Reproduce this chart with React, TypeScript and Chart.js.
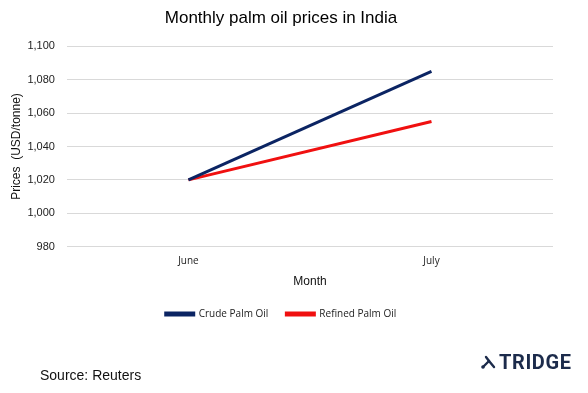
import React, { useEffect, useRef } from "react";
import { Chart, registerables } from "chart.js";

Chart.register(...registerables);

const categories = ["June", "July"];
const crudePalmOil = [1020, 1085];
const refinedPalmOil = [1020, 1055];
const yMin = 980;
const yMax = 1100;
const yStep = 20;

export default function App() {
  const ref = useRef<HTMLCanvasElement | null>(null);

  useEffect(() => {
    if (!ref.current) return;
    const chart = new Chart(ref.current, {
      type: "line",
      data: {
        labels: categories,
        datasets: [
          {
            label: "Crude Palm Oil",
            data: crudePalmOil,
            borderColor: "#0b2463",
            backgroundColor: "#0b2463",
            borderWidth: 3,
            pointRadius: 0,
            tension: 0,
          },
          {
            label: "Refined Palm Oil",
            data: refinedPalmOil,
            borderColor: "#f01010",
            backgroundColor: "#f01010",
            borderWidth: 3,
            pointRadius: 0,
            tension: 0,
          },
        ],
      },
      options: {
        animation: false,
        responsive: false,
        maintainAspectRatio: false,
        layout: { padding: { left: 9, right: 35, top: 0, bottom: 64 } },
        plugins: {
          title: {
            display: true,
            text: "Monthly palm oil prices in India",
            color: "#000",
            font: { family: "Liberation Sans, Arial", size: 17, weight: "normal" },
            padding: { top: 8, bottom: 18 },
          },
          legend: {
            position: "bottom",
            labels: {
              boxWidth: 28,
              boxHeight: 2,
              color: "#222",
              font: { family: "Open Sans, Lato, sans-serif", size: 10 },
              padding: 18,
            },
          },
          tooltip: { enabled: false },
        },
        scales: {
          x: {
            offset: true,
            grid: { display: false, drawTicks: false },
            border: { display: false },
            ticks: {
              color: "#222",
              font: { family: "Open Sans, Lato, sans-serif", size: 10 },
              padding: 9,
            },
            title: {
              display: true,
              text: "Month",
              color: "#111",
              font: { family: "Liberation Sans, Arial", size: 12 },
              padding: { top: -2, bottom: 2 },
            },
          },
          y: {
            min: yMin,
            max: yMax,
            grid: { color: "#d9d9d9", drawTicks: false, lineWidth: 1 },
            border: { display: false },
            ticks: {
              stepSize: yStep,
              color: "#222",
              font: { family: "Liberation Sans, Arial", size: 11 },
              padding: 12,
              callback: (v: any) => Number(v).toLocaleString("en-US"),
            },
            title: {
              display: true,
              text: "Prices  (USD/tonne)",
              color: "#111",
              font: { family: "Liberation Sans, Arial", size: 12 },
              padding: { top: 0, bottom: -8 },
            },
          },
        },
      },
    });
    return () => chart.destroy();
  }, []);

  return (
    <div
      style={{
        position: "fixed",
        left: 0,
        top: 0,
        width: 588,
        height: 393,
        background: "#fff",
        fontFamily: "Liberation Sans, Arial, sans-serif",
      }}
    >
      <canvas ref={ref} width={588} height={393} style={{ display: "block" }} />
      <div
        style={{
          position: "absolute",
          left: 40,
          top: 367,
          fontSize: 14,
          color: "#111",
          lineHeight: "16px",
        }}
      >
        Source: Reuters
      </div>
      <div
        style={{
          position: "absolute",
          left: 480,
          top: 352,
          display: "flex",
          alignItems: "center",
          color: "#1c2b4b",
        }}
      >
        <svg width="16" height="16" viewBox="0 0 16 16" style={{ marginRight: 3 }}>
          <line x1="3" y1="13" x2="9" y2="7" stroke="#1c2b4b" strokeWidth="2.4" strokeLinecap="round" />
          <line x1="9" y1="7" x2="14" y2="13" stroke="#1c2b4b" strokeWidth="2.4" strokeLinecap="round" />
          <line x1="9" y1="7" x2="6" y2="3" stroke="#1c2b4b" strokeWidth="2.4" strokeLinecap="round" />
          <circle cx="3" cy="13" r="1.8" fill="#1c2b4b" />
        </svg>
        <span
          style={{
            fontFamily: "Roboto, Liberation Sans, Arial",
            fontWeight: 700,
            fontSize: 20,
            letterSpacing: 0.6,
            lineHeight: "20px",
          }}
        >
          TRIDGE
        </span>
      </div>
    </div>
  );
}
